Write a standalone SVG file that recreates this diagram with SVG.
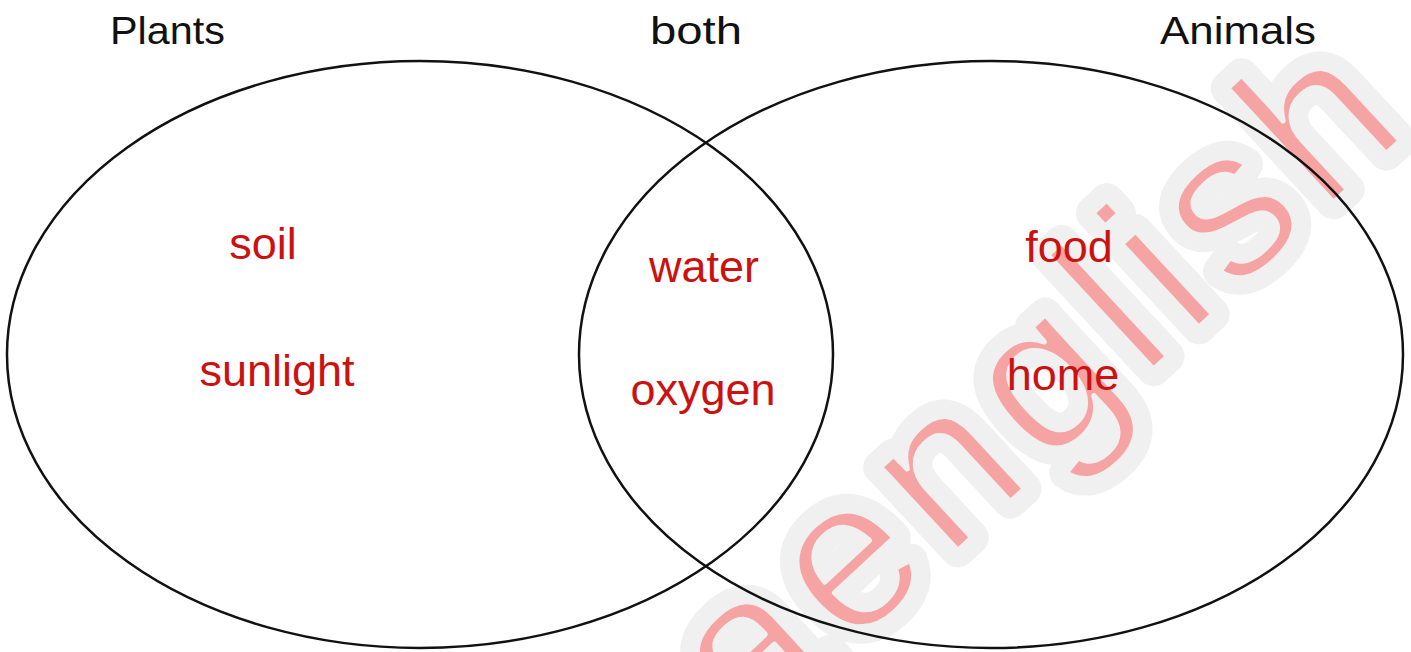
<svg xmlns="http://www.w3.org/2000/svg" width="1411" height="652" viewBox="0 0 1411 652">
  <style>
    .title { font-family: "Liberation Sans", Arial, sans-serif; font-size: 38px; fill: #111; }
    .item { font-family: "Liberation Sans", Arial, sans-serif; font-size: 45px; fill: #cc1111; text-anchor: middle; }
    .set { fill: none; stroke: #111; stroke-width: 2.5; }
    .wm { font-family: "Liberation Sans", Arial, sans-serif; font-size: 215px; letter-spacing: 14px; }
  </style>
  <rect width="1411" height="652" fill="#ffffff"/>
  <g id="watermark" transform="translate(751,742) rotate(-42.8)">
    <text class="wm" x="0" y="0" fill="none" stroke="#f0f0f0" stroke-width="34" stroke-linejoin="round">aenglish</text>
    <text class="wm" x="0" y="0" fill="#f6a3a3">aenglish</text>
    <text class="wm" x="0" y="0" fill="none" stroke="#f0f0f0" stroke-width="5" stroke-linejoin="round">aenglish</text>
  </g>
  <g id="connectors"></g>
  <g id="plants">
    <ellipse class="set" cx="420" cy="354.5" rx="413" ry="293.5"/>
    <text class="title" x="110" y="44" textLength="115" lengthAdjust="spacingAndGlyphs">Plants</text>
    <text class="item" x="263" y="259">soil</text>
    <text class="item" x="277" y="386">sunlight</text>
  </g>
  <g id="both">
    <text class="title" x="650" y="44" textLength="92" lengthAdjust="spacingAndGlyphs">both</text>
    <text class="item" x="704" y="282">water</text>
    <text class="item" x="703" y="405">oxygen</text>
  </g>
  <g id="animals">
    <ellipse class="set" cx="991" cy="354.5" rx="412" ry="293.5"/>
    <text class="title" x="1160" y="44" textLength="156" lengthAdjust="spacingAndGlyphs">Animals</text>
    <text class="item" x="1069" y="262">food</text>
    <text class="item" x="1063" y="390">home</text>
  </g>
</svg>
